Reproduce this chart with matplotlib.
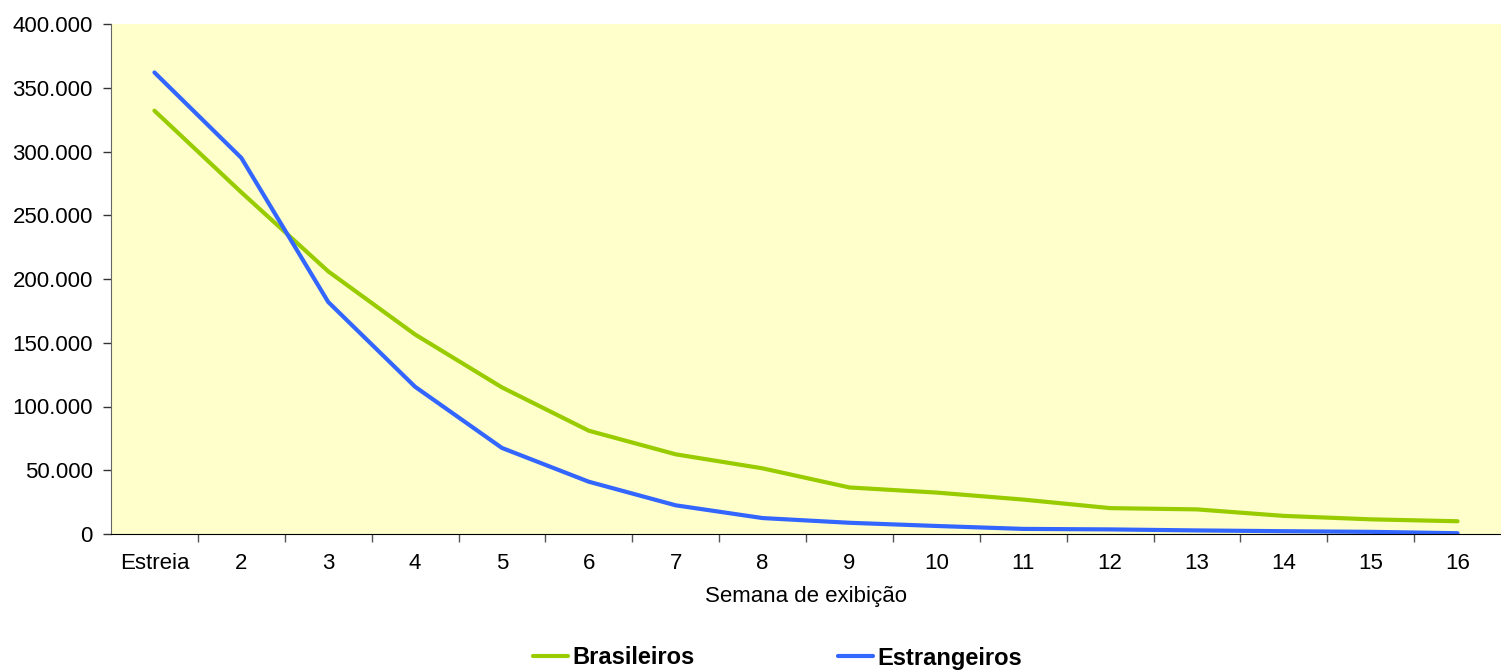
import matplotlib
matplotlib.use("Agg")
import matplotlib.pyplot as plt
from matplotlib.ticker import FuncFormatter, FixedLocator

plt.rcParams['font.family'] = ['Liberation Sans', 'DejaVu Sans']

# --- data ---
semanas = ['Estreia', '2', '3', '4', '5', '6', '7', '8', '9', '10',
           '11', '12', '13', '14', '15', '16']
brasileiros = [332000, 268000, 206000, 156500, 115000, 81000, 62500, 51500,
               36500, 32500, 27000, 20300, 19300, 14200, 11500, 10000]
estrangeiros = [362000, 295000, 182000, 115500, 67500, 41000, 22500, 12500,
                8800, 6300, 4000, 3600, 2800, 2200, 1700, 600]

VERDE = '#99CC00'
AZUL = '#3366FF'
FS = 16

fig = plt.figure(figsize=(15.01, 6.70), dpi=100)
ax = fig.add_axes([111 / 1501, 1 - 534 / 670, 1 - 111 / 1501, (534 - 24) / 670])
ax.set_facecolor('#FFFFCC')

x = list(range(len(semanas)))
ax.plot(x, brasileiros, color=VERDE, lw=3.0, solid_capstyle='round',
        solid_joinstyle='round', label='Brasileiros')
ax.plot(x, estrangeiros, color=AZUL, lw=3.0, solid_capstyle='round',
        solid_joinstyle='round', label='Estrangeiros')

ax.set_xlim(-0.5, len(semanas) - 0.5)
ax.set_ylim(0, 400000)
ax.set_yticks(range(0, 400001, 50000))
ax.yaxis.set_major_formatter(FuncFormatter(lambda v, p: f"{int(v):,}".replace(',', '.')))

# ticks between categories, labels centred on categories
ax.xaxis.set_major_locator(FixedLocator([k + 0.5 for k in range(len(semanas) - 1)]))
ax.set_xticklabels([])
ax.set_xticks(x, minor=True)
ax.set_xticklabels(semanas, minor=True)
ax.tick_params(axis='x', which='major', length=6, width=1, color='#555555')
ax.tick_params(axis='x', which='minor', length=0, pad=14, labelsize=FS)
ax.tick_params(axis='y', length=6, width=1, color='#333333', labelsize=FS, pad=7)

for s in ['top', 'right']:
    ax.spines[s].set_visible(False)
ax.spines['left'].set_color('#666666')
ax.spines['bottom'].set_color('black')

ax.set_xlabel('Semana de exibição', fontsize=FS, labelpad=8)

leg = fig.legend(loc='center left', bbox_to_anchor=(533 / 1501, 1 - 658 / 670), ncol=2,
                 frameon=False, borderpad=0, borderaxespad=0,
                 handlelength=1.48, handletextpad=0.17,
                 columnspacing=6.1, prop={'weight': 'bold', 'size': 17})

fig.savefig('out.png', dpi=100)
